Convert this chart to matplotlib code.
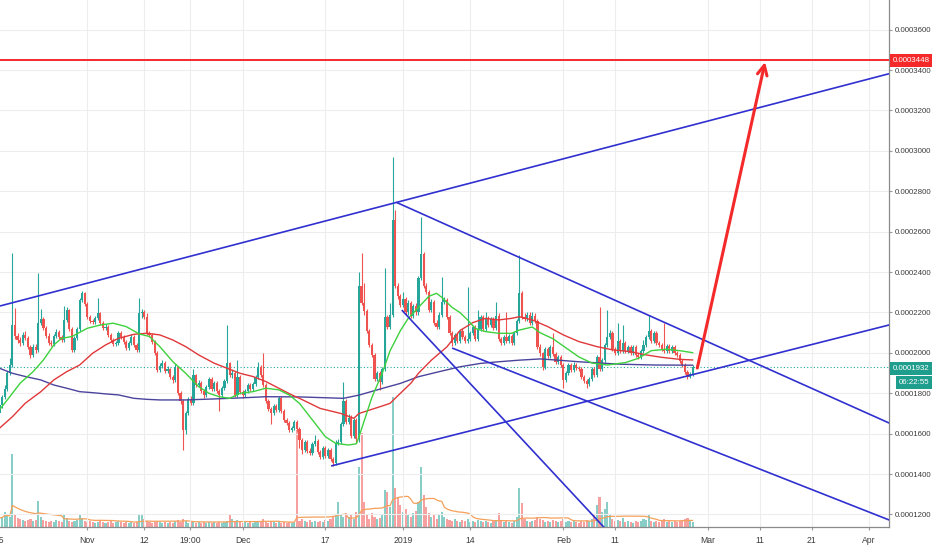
import matplotlib
matplotlib.use("Agg")
import matplotlib.pyplot as plt
import matplotlib.dates as mdates
import numpy as np
import pandas as pd

plt.rcParams['font.family'] = ['Liberation Sans', 'DejaVu Sans']

# ---- data (prices in units of 1e-7, 12h candles) ----
SCALE = 1e-7
bar_start = "2018-10-15 00:00"
open_first = 1700

close_e7 = [
    1740, 1780, 1820, 1900, 1940, 2140, 2085, 2065, 2050, 2090,
    2075, 2030, 1990, 2030, 2015, 2150, 2170, 2125, 2085, 2050,
    2045, 2085, 2105, 2080, 2065, 2165, 2210, 2120, 2015, 2075,
    2120, 2260, 2295, 2240, 2180, 2160, 2155, 2175, 2195, 2150,
    2125, 2130, 2090, 2065, 2045, 2050, 2100, 2080, 2055, 2025,
    2050, 2080, 2040, 2015, 2195, 2200, 2180, 2100, 2090, 2055,
    2000, 1915, 1935, 1950, 1910, 1920, 1880, 1865, 1930, 1800,
    1760, 1620, 1700, 1770, 1750, 1890, 1840, 1850, 1810, 1790,
    1830, 1870, 1820, 1850, 1810, 1790, 1825, 1860, 1950, 1890,
    1900, 1790, 1880, 1805, 1790, 1810, 1840, 1820, 1845, 1880,
    1930, 1890, 1840, 1760, 1720, 1700, 1735, 1715, 1775, 1710,
    1670, 1655, 1620, 1630, 1660, 1625, 1570, 1520, 1560, 1515,
    1505, 1550, 1565, 1510, 1485, 1530, 1490, 1520, 1475, 1455,
    1555, 1560, 1650, 1760, 1660, 1680, 1590, 1670, 1575, 2330,
    2245, 2205, 2110, 2040, 1990, 1870, 1900, 1855, 1920, 2180,
    2130, 2190, 2660, 2330, 2280, 2235, 2265, 2200, 2245, 2185,
    2230, 2200, 2370, 2490, 2330, 2300, 2210, 2250, 2150, 2130,
    2190, 2250, 2260, 2180, 2100, 2050, 2090, 2060, 2110, 2080,
    2060, 2070, 2100, 2130, 2070, 2120, 2180, 2120, 2175, 2140,
    2170, 2125, 2185, 2070, 2050, 2080, 2060, 2085, 2050, 2100,
    2160, 2295, 2180, 2170, 2190, 2150, 2185, 2160, 2030, 1998,
    1930, 2020, 1985, 2030, 1995, 1955, 1980, 1940, 1865, 1900,
    1940, 1915, 1940, 1925, 1920, 1880, 1860, 1845, 1870, 1920,
    1890, 1980, 1920, 1965, 2040, 2080, 2100, 2020, 2000, 2060,
    2010, 2050, 2010, 2030, 2000, 2030, 1990, 1980, 2010, 2040,
    2080, 2110, 2060, 2100, 2050, 2040, 2020, 2010, 2035, 2010,
    2030, 2000, 1990, 1960, 1940, 1905, 1880, 1895, 1932,
]

high_e7 = [
    1755, 1790, 1840, 1910, 1975, 2493, 2220, 2100, 2080, 2105,
    2110, 2085, 2040, 2045, 2045, 2394, 2215, 2180, 2135, 2100,
    2065, 2095, 2120, 2115, 2090, 2230, 2225, 2215, 2130, 2085,
    2130, 2270, 2305, 2300, 2250, 2190, 2170, 2185, 2270, 2200,
    2160, 2145, 2140, 2100, 2075, 2060, 2110, 2110, 2090, 2065,
    2060, 2095, 2090, 2050, 2270, 2215, 2210, 2195, 2110, 2100,
    2065, 2010, 1950, 1965, 1960, 1935, 1925, 1890, 1945, 1935,
    1810, 1770, 1710, 1780, 1785, 1920, 1895, 1865, 1860, 1820,
    1840, 1880, 1880, 1860, 1860, 1820, 1835, 1870, 2140, 1955,
    1915, 1910, 1965, 1890, 1815, 1820, 1850, 1850, 1855, 1890,
    1957, 1940, 1998, 1850, 1770, 1730, 1745, 1745, 1785, 1785,
    1720, 1680, 1665, 1640, 1670, 1670, 1635, 1580, 1570, 1570,
    1530, 1560, 1595, 1575, 1520, 1540, 1540, 1530, 1530, 1485,
    1570, 1575, 1660, 1858, 1770, 1695, 1690, 1680, 1680, 2400,
    2493, 2345, 2215, 2120, 2050, 2000, 1910, 1910, 1930, 2418,
    2190, 2245, 2970, 2707, 2345, 2290, 2300, 2275, 2260, 2255,
    2240, 2245, 2380, 2674, 2500, 2345, 2310, 2265, 2260, 2165,
    2200, 2377, 2275, 2270, 2190, 2110, 2100, 2100, 2120, 2125,
    2090, 2328, 2110, 2140, 2140, 2213, 2190, 2190, 2204, 2185,
    2180, 2180, 2254, 2195, 2080, 2090, 2204, 2095, 2095, 2110,
    2170, 2485, 2305, 2195, 2200, 2200, 2204, 2195, 2170, 2045,
    2005, 2030, 2030, 2040, 2097, 2005, 1990, 1990, 1950, 1910,
    1950, 1950, 1955, 1950, 1935, 1930, 1890, 1870, 1880, 1930,
    1930, 1990, 2229, 1975, 2050, 2213, 2115, 2110, 2030, 2147,
    2070, 2138, 2060, 2040, 2040, 2040, 2040, 2000, 2020, 2064,
    2090, 2188, 2120, 2110, 2110, 2060, 2050, 2147, 2045, 2045,
    2040, 2040, 2010, 2000, 1970, 1950, 1915, 1905, 1940,
]

low_e7 = [
    1690, 1725, 1770, 1810, 1890, 1930, 2070, 2050, 2035, 2040,
    2065, 2020, 1975, 1980, 2000, 2005, 2140, 2115, 2075, 2040,
    2035, 2035, 2075, 2070, 2055, 2055, 2155, 2110, 2005, 2005,
    2065, 2110, 2250, 2230, 2170, 2150, 2145, 2145, 2165, 2140,
    2115, 2115, 2080, 2055, 2035, 2035, 2040, 2070, 2045, 2015,
    2015, 2040, 2030, 2005, 2005, 2175, 2170, 2090, 2080, 2045,
    1990, 1905, 1905, 1925, 1900, 1900, 1870, 1850, 1855, 1790,
    1745, 1520, 1600, 1690, 1740, 1740, 1830, 1830, 1800, 1775,
    1780, 1820, 1810, 1810, 1800, 1710, 1780, 1815, 1850, 1880,
    1875, 1780, 1780, 1795, 1775, 1780, 1800, 1810, 1810, 1835,
    1870, 1880, 1830, 1750, 1710, 1650, 1690, 1705, 1705, 1700,
    1660, 1645, 1610, 1610, 1620, 1615, 1530, 1500, 1510, 1505,
    1495, 1495, 1540, 1500, 1475, 1475, 1480, 1480, 1465, 1440,
    1445, 1545, 1550, 1640, 1650, 1650, 1580, 1580, 1555, 1560,
    2235, 2190, 2100, 2030, 1980, 1860, 1860, 1815, 1845, 1910,
    2120, 2120, 2180, 2320, 2265, 2225, 2225, 2190, 2190, 2175,
    2175, 2190, 2190, 2360, 2320, 2290, 2200, 2200, 2140, 2120,
    2120, 2180, 2240, 2170, 2090, 2035, 2040, 2050, 2050, 2070,
    2050, 2050, 2060, 2090, 2060, 2060, 2110, 2110, 2110, 2130,
    2130, 2115, 2115, 2060, 2040, 2040, 2050, 2050, 2040, 2040,
    2090, 2150, 2170, 2160, 2160, 2140, 2140, 2150, 2020, 1985,
    1916, 1920, 1975, 1975, 1985, 1945, 1945, 1930, 1825, 1855,
    1890, 1905, 1905, 1915, 1910, 1870, 1850, 1825, 1835, 1860,
    1880, 1880, 1910, 1910, 1955, 2030, 2070, 2010, 1990, 1990,
    2000, 2000, 2000, 2000, 1990, 1990, 1980, 1970, 1970, 2000,
    2030, 2070, 2050, 2050, 2040, 2030, 2010, 2000, 2000, 2000,
    2000, 1990, 1980, 1950, 1930, 1895, 1870, 1875, 1885,
]

volume = [
    9, 10, 15, 12, 10, 73, 12, 9, 8, 7,
    6, 7, 8, 6, 7, 26, 10, 7, 6, 5,
    6, 5, 7, 6, 5, 12, 9, 6, 5, 6,
    7, 13, 9, 6, 5, 6, 5, 4, 5, 7,
    5, 4, 5, 6, 4, 5, 6, 5, 4, 5,
    4, 5, 4, 5, 13, 12, 8, 6, 5, 4,
    5, 6, 5, 4, 5, 4, 5, 4, 6, 7,
    5, 8, 6, 4, 5, 6, 4, 5, 4, 5,
    4, 5, 4, 5, 4, 5, 4, 5, 6, 13,
    8, 6, 7, 5, 4, 5, 4, 5, 4, 5,
    6, 5, 8, 5, 4, 6, 5, 4, 5, 4,
    5, 4, 5, 4, 5, 97, 6, 8, 6, 5,
    7, 5, 6, 5, 6, 5, 7, 6, 8, 10,
    12, 25, 12, 10, 14, 10, 12, 8, 15, 60,
    94, 25, 12, 8, 14, 10, 8, 9, 12, 37,
    35, 20, 130, 39, 30, 22, 15, 18, 12, 10,
    14, 16, 25, 60, 32, 20, 14, 10, 12, 8,
    12, 15, 10, 8, 7, 6, 8, 6, 5, 7,
    6, 8, 5, 6, 5, 7, 6, 5, 6, 5,
    4, 6, 7, 14, 6, 5, 6, 5, 4, 6,
    10, 39, 24, 8, 6, 5, 6, 7, 10, 8,
    7, 5, 6, 5, 7, 6, 5, 6, 8, 5,
    6, 5, 6, 5, 4, 6, 5, 7, 6, 8,
    12, 22, 30, 15, 18, 25, 12, 8, 6, 7,
    6, 9, 5, 6, 5, 4, 6, 5, 6, 8,
    7, 12, 6, 5, 6, 5, 6, 8, 5, 6,
    5, 6, 5, 6, 7, 8, 9, 6, 5,
]

# moving averages (bar index, value)
ma_fast_bar = [0, 4, 8, 13, 17, 21, 24, 28, 34, 39, 44, 49, 54, 58, 62, 67, 72, 77, 81, 85,
               89, 93, 98, 103, 108, 112, 116, 121, 126, 130, 135, 138, 139, 144, 148, 151,
               155, 158, 162, 166, 169, 171, 175, 178, 181, 184, 188, 193, 198, 201, 206,
               209, 214, 219, 224, 229, 235, 242, 247, 252, 258, 263, 268]
ma_fast_e7 = [1718, 1783, 1850, 1907, 1965, 2039, 2072, 2081, 2122, 2138, 2147, 2130, 2094,
              2081, 2031, 1957, 1899, 1833, 1800, 1783, 1775, 1800, 1808, 1825, 1817, 1792,
              1750, 1668, 1585, 1552, 1544, 1550, 1585, 1780, 1900, 2010, 2110, 2170, 2225,
              2280, 2295, 2275, 2225, 2200, 2163, 2121, 2105, 2097, 2097, 2113, 2128, 2100,
              2070, 2025, 1980, 1950, 1940, 1952, 1973, 2011, 2018, 2011, 2001]

ma_mid_bar = [0, 5, 10, 16, 21, 26, 31, 36, 41, 46, 52, 57, 62, 67, 72, 77, 83, 88, 93, 98,
              103, 108, 113, 116, 124, 132, 137, 139, 147, 151, 155, 159, 162, 167, 173,
              178, 183, 188, 193, 198, 201, 206, 212, 218, 224, 231, 237, 244, 250, 256,
              263, 268]
ma_mid_e7 = [1627, 1684, 1751, 1808, 1866, 1907, 1940, 1998, 2039, 2072, 2092, 2097, 2089,
             2064, 2031, 1990, 1949, 1924, 1899, 1883, 1858, 1825, 1792, 1775, 1725, 1700,
             1676, 1700, 1733, 1750, 1800, 1849, 1899, 1964, 2030, 2110, 2150, 2171, 2163,
             2171, 2179, 2163, 2130, 2089, 2056, 2031, 2015, 2006, 1990, 1978, 1968, 1965]

ma_slow_bar = [0, 5, 10, 16, 21, 26, 31, 36, 41, 46, 52, 57, 62, 72, 83, 93, 103, 116, 133,
               139, 148, 155, 162, 170, 178, 186, 193, 201, 209, 217, 224, 232, 240, 253, 268]
ma_slow_e7 = [1924, 1899, 1883, 1866, 1841, 1825, 1808, 1803, 1797, 1792, 1775, 1770, 1767,
              1767, 1772, 1777, 1783, 1782, 1775, 1791, 1824, 1849, 1882, 1907, 1931, 1948,
              1956, 1964, 1970, 1963, 1956, 1950, 1944, 1940, 1939]

# drawn lines: (date, price e7)
peak = ("2018-12-30 18:00", 2745)
upper_channel = [peak, ("2019-04-04 23:00", 3382)]
desc_top = [peak, ("2019-04-04 23:00", 1653)]
desc_low = [("2019-01-10 12:00", 2024), ("2019-04-04 23:00", 1173)]
desc_steep = [("2018-12-31 18:30", 2212), ("2019-02-08 02:00", 1158)]
support = [("2018-12-18 02:30", 1440), ("2019-04-04 23:00", 2138)]
target_e7 = 3448
arrow_from = ("2019-02-26 21:30", 1925)
arrow_to = ("2019-03-12 00:00", 3440)

last_price_e7 = 1932
countdown = "06:22:55"

price_ticks_e7 = [1200, 1400, 1600, 1800, 2000, 2200, 2400, 2600, 2800, 3000, 3200, 3400, 3600]
date_ticks = ["2018-11-01", "2018-11-12", "2018-11-20 19:00", "2018-12-01", "2018-12-17",
              "2019-01-01", "2019-01-14", "2019-02-01", "2019-02-11", "2019-03-01",
              "2019-03-11", "2019-03-21", "2019-04-01"]
date_labels = ["Nov", "12", "19:00", "Dec", "17", "2019", "14", "Feb", "11", "Mar",
               "11", "21", "Apr"]
first_tick = ("2018-10-15", "15")

x_range = ("2018-10-15 02:30", "2019-04-04 23:00")
y_range_e7 = (1138, 3747)

# ---- style ----
UP = '#26a69a'
DOWN = '#ef5350'
TREND = '#3030d0'
TARGET = '#f42a2a'
TXT = '#3c3c3c'
FS = 5.7
FSX = 6.2


def d2n(s):
    return mdates.date2num(pd.Timestamp(s))


def bar_time(idx):
    return d2n(bar_start) + np.asarray(idx) * 0.5


fig = plt.figure(figsize=(9.32, 5.5), dpi=100)
fig.patch.set_facecolor('white')
ax = fig.add_axes([0, 23 / 550, 889 / 932, 527 / 550])
axv = ax.twinx()

n = len(close_e7)
bx = bar_time(np.arange(n))
c = np.array(close_e7) * SCALE
o = np.array([open_first] + close_e7[:-1]) * SCALE
hi = np.array(high_e7) * SCALE
lo = np.array(low_e7) * SCALE
colors = np.where(c >= o, UP, DOWN)

# volume pane underneath
axv.bar(bx, volume, width=0.4, color=colors, alpha=0.55, lw=0)
vol_ma = pd.Series(volume).rolling(20, min_periods=1).mean()
axv.plot(bx, vol_ma, color='#f5a05a', lw=0.9)
axv.set_ylim(0, 527)
axv.axis('off')
ax.set_zorder(axv.get_zorder() + 1)
ax.patch.set_visible(False)

# candles
ax.vlines(bx, lo, hi, colors=colors, lw=0.8, zorder=3)
ax.bar(bx, np.maximum(np.abs(c - o), 0.6 * SCALE), bottom=np.minimum(o, c),
       width=0.42, color=colors, lw=0, zorder=3)

# moving averages
ax.plot(bar_time(ma_slow_bar), np.array(ma_slow_e7) * SCALE, color='#4b449c', lw=1.0, zorder=4)
ax.plot(bar_time(ma_mid_bar), np.array(ma_mid_e7) * SCALE, color='#e0383a', lw=1.0, zorder=4)
ax.plot(bar_time(ma_fast_bar), np.array(ma_fast_e7) * SCALE, color='#3dd13d', lw=1.0, zorder=4)

# current price dotted line
ax.axhline(last_price_e7 * SCALE, color=UP, lw=0.8, ls=(0, (1, 2)), zorder=2)

# trend lines
x_far = d2n(x_range[1]) + 30


def ray(pts, **kw):
    x0, y0 = d2n(pts[0][0]), pts[0][1] * SCALE
    x1, y1 = d2n(pts[1][0]), pts[1][1] * SCALE
    slope = (y1 - y0) / (x1 - x0)
    ax.plot([x0, x_far], [y0, y0 + slope * (x_far - x0)], **kw)


tl = dict(color=TREND, lw=1.2, zorder=5, solid_capstyle='butt')
ax.axline((d2n(upper_channel[0][0]), upper_channel[0][1] * SCALE),
          (d2n(upper_channel[1][0]), upper_channel[1][1] * SCALE), **tl)
ray(desc_top, **tl)
ray(desc_low, **tl)
ray(desc_steep, **tl)
ray(support, **tl)

# target level and arrow
ax.axhline(target_e7 * SCALE, color=TARGET, lw=1.4, zorder=5)
ax.annotate("", xy=(d2n(arrow_to[0]), arrow_to[1] * SCALE),
            xytext=(d2n(arrow_from[0]), arrow_from[1] * SCALE),
            arrowprops=dict(arrowstyle='->,head_length=0.7,head_width=0.35', color=TARGET,
                            lw=2.2, shrinkA=0, shrinkB=0), zorder=6)

# axes
ax.set_xlim(d2n(x_range[0]), d2n(x_range[1]))
ax.set_ylim(y_range_e7[0] * SCALE, y_range_e7[1] * SCALE)
ax.yaxis.tick_right()
ax.set_yticks(np.array(price_ticks_e7) * SCALE)
ax.set_yticklabels(["{:.7f}".format(v * SCALE) for v in price_ticks_e7])
ax.set_xticks([d2n(d) for d in date_ticks])
ax.set_xticklabels(date_labels)
ax.tick_params(axis='both', labelcolor=TXT, color='#9a9a9a', length=2.5, width=0.8)
ax.tick_params(axis='y', pad=1.5, labelsize=FS)
ax.tick_params(axis='x', pad=4, labelsize=FSX)
ax.grid(True, color='#ededed', lw=0.8, zorder=0)
ax.set_axisbelow(True)
for side in ['top', 'left']:
    ax.spines[side].set_visible(False)
for side in ['right', 'bottom']:
    ax.spines[side].set_color('#8a8a8a')
    ax.spines[side].set_linewidth(0.9)

ax.annotate(first_tick[1], xy=(d2n(first_tick[0]), 0), xycoords=('data', 'axes fraction'),
            xytext=(0, -6.5), textcoords='offset points', ha='center', va='top',
            fontsize=FSX, color=TXT, annotation_clip=False)

# price tags on the axis
ytr = ax.get_yaxis_transform()
tag = dict(textcoords='offset pixels', va='center', fontsize=FS, color='white',
           annotation_clip=False, zorder=10)
ax.annotate("{:.7f}".format(target_e7 * SCALE), xy=(1, target_e7 * SCALE), xycoords=ytr,
            xytext=(4, 0), ha='left',
            bbox=dict(boxstyle='square,pad=0.35', fc=TARGET, ec='none'), **tag)
ax.annotate("{:.7f}".format(last_price_e7 * SCALE), xy=(1, last_price_e7 * SCALE), xycoords=ytr,
            xytext=(4, -2), ha='left',
            bbox=dict(boxstyle='square,pad=0.35', fc='#1f9e8d', ec='none'), **tag)
ax.annotate(countdown, xy=(1, last_price_e7 * SCALE), xycoords=ytr,
            xytext=(40, -16), ha='right',
            bbox=dict(boxstyle='square,pad=0.35', fc='#1f9e8d', ec='none'), **tag)

fig.savefig("out.png", dpi=100, facecolor='white')
